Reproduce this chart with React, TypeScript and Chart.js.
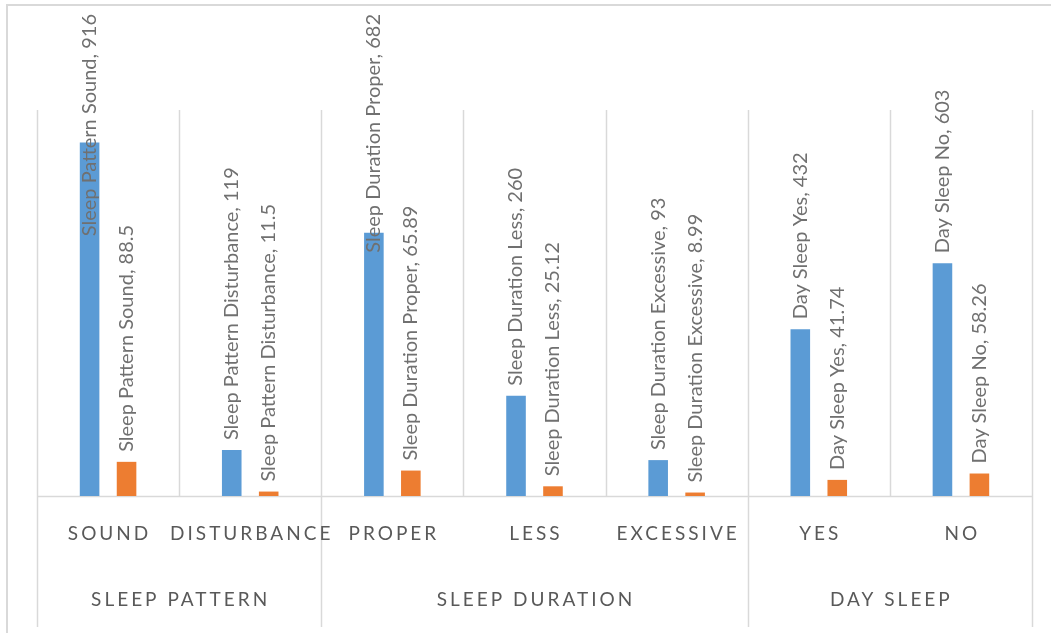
import React, { useEffect, useRef } from "react";
import { Chart, registerables } from "chart.js";

Chart.register(...registerables);

const categories = ["Sound", "Disturbance", "Proper", "Less", "Excessive", "Yes", "No"];
const labelNames = [
  "Sleep Pattern Sound",
  "Sleep Pattern Disturbance",
  "Sleep Duration Proper",
  "Sleep Duration Less",
  "Sleep Duration Excessive",
  "Day Sleep Yes",
  "Day Sleep No",
];
const counts = [916, 119, 682, 260, 93, 432, 603];
const percents = [88.5, 11.5, 65.89, 25.12, 8.99, 41.74, 58.26];
const groupNames = ["Sleep Pattern", "Sleep Duration", "Day Sleep"];
const groupSpans = [2, 3, 2];

const GRID = "#d9d9d9";
const LABEL_FONT = "Lato";

const decorPlugin = {
  id: "decor",
  beforeDraw(chart: any) {
    const ctx = chart.ctx;
    const { left, right, top, bottom } = chart.chartArea;
    const xs = chart.scales.x;
    ctx.save();
    // outer frame (top and left)
    ctx.strokeStyle = GRID;
    ctx.lineWidth = 2;
    ctx.beginPath();
    ctx.moveTo(6, 5);
    ctx.lineTo(chart.width, 5);
    ctx.moveTo(7, 4);
    ctx.lineTo(7, chart.height);
    ctx.stroke();

    // category boundaries
    const n = categories.length;
    const bounds: number[] = [];
    for (let i = 0; i <= n; i++) {
      if (i === 0) bounds.push(left);
      else if (i === n) bounds.push(right);
      else bounds.push((xs.getPixelForValue(i - 1) + xs.getPixelForValue(i)) / 2);
    }
    const groupEdges = new Set<number>([0]);
    let acc = 0;
    groupSpans.forEach((s) => {
      acc += s;
      groupEdges.add(acc);
    });
    ctx.lineWidth = 1.5;
    ctx.strokeStyle = GRID;
    bounds.forEach((bx, i) => {
      const x = Math.round(bx) + 0.5;
      ctx.beginPath();
      ctx.moveTo(x, top);
      ctx.lineTo(x, groupEdges.has(i) ? 627 : bottom);
      ctx.stroke();
    });
    // baseline
    ctx.beginPath();
    ctx.moveTo(left, Math.round(bottom) + 0.5);
    ctx.lineTo(right, Math.round(bottom) + 0.5);
    ctx.stroke();

    // category labels
    const spacing = 3;
    ctx.fillStyle = "#595959";
    ctx.font = `19px ${LABEL_FONT}`;
    (ctx as any).letterSpacing = `${spacing}px`;
    ctx.textAlign = "center";
    ctx.textBaseline = "middle";
    categories.forEach((c, i) => {
      ctx.fillText(c.toUpperCase(), xs.getPixelForValue(i) + spacing / 2, 534);
    });
    // group labels
    let start = 0;
    groupNames.forEach((g, gi) => {
      const end = start + groupSpans[gi];
      const cx = (bounds[start] + bounds[end]) / 2;
      ctx.fillText(g.toUpperCase(), cx + spacing / 2, 600);
      start = end;
    });
    ctx.restore();
  },
  afterDatasetsDraw(chart: any) {
    const ctx = chart.ctx;
    ctx.save();
    ctx.font = `20px ${LABEL_FONT}`;
    ctx.fillStyle = "#707070";
    ctx.textAlign = "left";
    ctx.textBaseline = "middle";
    chart.data.datasets.forEach((ds: any, di: number) => {
      const meta = chart.getDatasetMeta(di);
      meta.data.forEach((bar: any, i: number) => {
        const text = `${labelNames[i]}, ${ds.data[i]}`;
        const w = ctx.measureText(text).width;
        let startY = bar.y - 10;
        const minTop = 14;
        if (startY - w < minTop) startY = minTop + w;
        ctx.save();
        ctx.translate(bar.x, startY);
        ctx.rotate(-Math.PI / 2);
        ctx.fillText(text, 0, 0);
        ctx.restore();
      });
    });
    ctx.restore();
  },
};

export default function App() {
  const ref = useRef<HTMLCanvasElement>(null);
  useEffect(() => {
    if (!ref.current) return;
    const chart = new Chart(ref.current, {
      type: "bar",
      data: {
        labels: categories,
        datasets: [
          {
            label: "Count",
            data: counts,
            backgroundColor: "#5b9bd5",
            categoryPercentage: 0.52,
            barPercentage: 0.53,
          },
          {
            label: "Percent",
            data: percents,
            backgroundColor: "#ed7d31",
            categoryPercentage: 0.52,
            barPercentage: 0.53,
          },
        ],
      },
      options: {
        animation: false,
        responsive: true,
        maintainAspectRatio: false,
        layout: { padding: { left: 37, right: 19, top: 110, bottom: 137 } },
        plugins: { legend: { display: false }, tooltip: { enabled: false }, title: { display: false } },
        scales: {
          x: { display: false },
          y: { display: false, min: 0, max: 1000 },
        },
      },
      plugins: [decorPlugin],
    });
    return () => chart.destroy();
  }, []);
  return (
    <div style={{ position: "absolute", left: 0, top: 0, width: 1051, height: 633, background: "#fff" }}>
      <canvas ref={ref} />
    </div>
  );
}
